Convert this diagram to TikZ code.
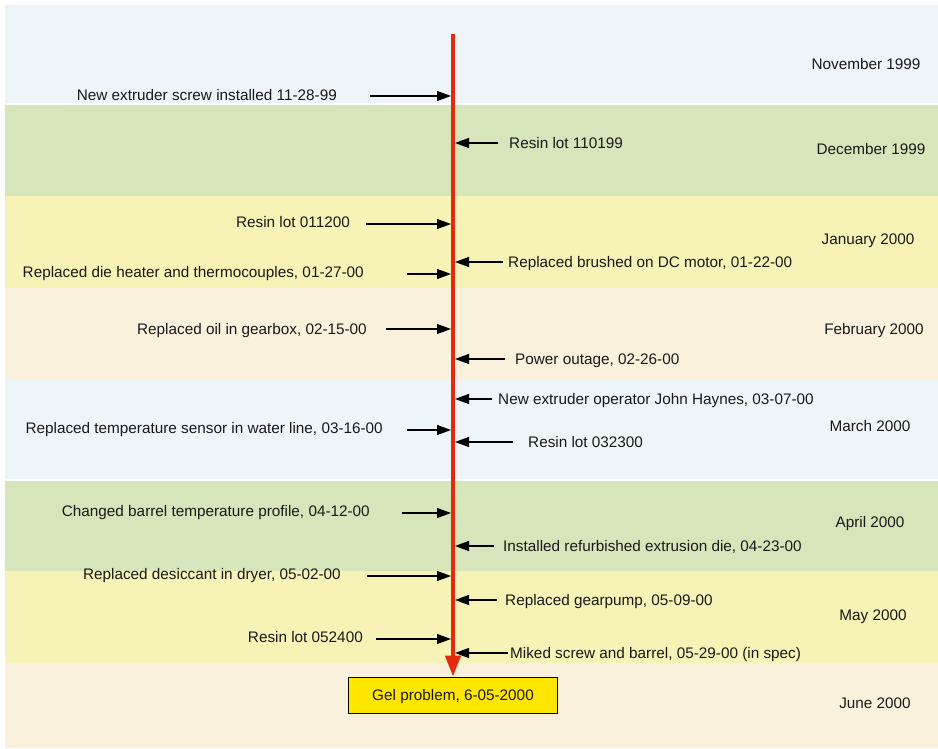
\documentclass[tikz,border=0pt]{standalone}
\usepackage{fontspec}
\setmainfont{Liberation Sans}
\usepackage{tikz}
\usetikzlibrary{arrows.meta, positioning}
\usepackage{xcolor}
\definecolor{bandblue}{HTML}{EDF5F8}
\definecolor{bandgreen}{HTML}{D6E5BA}
\definecolor{bandyellow}{HTML}{F7F2B5}
\definecolor{bandcream}{HTML}{FAF1DC}
\definecolor{spinered}{HTML}{E4290C}
\definecolor{gelyellow}{HTML}{FFE600}
\tikzstyle{evtext} = [inner sep=0pt, text height=11pt, text depth=0pt,
    font=\fontsize{15.3}{18}\selectfont, text=black!90]
\tikzstyle{month} = [evtext]
\tikzstyle{evarrow} = [-{Triangle[length=14pt, width=10pt]}, line width=1.2pt, color=black]
\tikzstyle{timeline} = [-{Triangle[length=21pt, width=15pt]}, line width=4pt, color=spinered]
\tikzstyle{gelbox} = [
    rectangle, draw=black, fill=gelyellow, line width=0.9pt,
    minimum width=209pt, minimum height=36pt, text height=11pt, text depth=0pt,
    font=\fontsize{15.3}{18}\selectfont, text=black!90
]

\begin{document}
\begin{tikzpicture}[x=1pt, y=-1pt]

    \useasboundingbox (0,0) rectangle (938,749);

    % Month bands
    \fill[bandblue]   (5,5)   rectangle (938,104);
    \fill[bandgreen]  (5,104) rectangle (938,196);
    \fill[bandyellow] (5,196) rectangle (938,288);
    \fill[bandcream]  (5,288) rectangle (938,379);
    \fill[bandblue]   (5,379) rectangle (938,480);
    \fill[bandgreen]  (5,480) rectangle (938,571);
    \fill[bandyellow] (5,571) rectangle (938,663);
    \fill[bandcream]  (5,663) rectangle (938,748);
    \draw[white, line width=1.2pt] (5,104) -- (938,104);
    \draw[white, line width=1.2pt] (5,480) -- (938,480);

    % Month labels
    \node[month] (m1) at (866,64)  {November 1999};
    \node[month] (m2) at (871,149) {December 1999};
    \node[month] (m3) at (868,239) {January 2000};
    \node[month] (m4) at (874,329) {February 2000};
    \node[month] (m5) at (870,426) {March 2000};
    \node[month] (m6) at (870,522) {April 2000};
    \node[month] (m7) at (873,615) {May 2000};
    \node[month] (m8) at (875,703) {June 2000};

    % Time line
    \coordinate (top) at (453,34);
    \coordinate (spL) at (451,0);
    \coordinate (spR) at (455,0);
    \node[gelbox] (gel) at (453,695) {Gel problem, 6-05-2000};
    \draw[timeline] (top) -- (gel.north);

    % Events on the left
    \coordinate (a1) at (370,96);
    \coordinate (a2) at (366,224);
    \coordinate (a3) at (407,274);
    \coordinate (a4) at (386,329);
    \coordinate (a5) at (407,430);
    \coordinate (a6) at (402,513);
    \coordinate (a7) at (367,576);
    \coordinate (a8) at (376,639);
    \node[evtext, left=33pt of a1, yshift=1pt] (l1) {New extruder screw installed 11-28-99};
    \node[evtext, left=16pt of a2, yshift=2pt] (l2) {Resin lot 011200};
    \node[evtext, left=43pt of a3, yshift=2pt] (l3) {Replaced die heater and thermocouples, 01-27-00};
    \node[evtext, left=19pt of a4] (l4) {Replaced oil in gearbox, 02-15-00};
    \node[evtext, left=24pt of a5, yshift=2pt] (l5) {Replaced temperature sensor in water line, 03-16-00};
    \node[evtext, left=32pt of a6, yshift=2pt] (l6) {Changed barrel temperature profile, 04-12-00};
    \node[evtext, left=26pt of a7, yshift=2pt] (l7) {Replaced desiccant in dryer, 05-02-00};
    \node[evtext, left=13pt of a8, yshift=2pt] (l8) {Resin lot 052400};
    \draw[evarrow] (a1) -- (a1 -| spL);
    \draw[evarrow] (a2) -- (a2 -| spL);
    \draw[evarrow] (a3) -- (a3 -| spL);
    \draw[evarrow] (a4) -- (a4 -| spL);
    \draw[evarrow] (a5) -- (a5 -| spL);
    \draw[evarrow] (a6) -- (a6 -| spL);
    \draw[evarrow] (a7) -- (a7 -| spL);
    \draw[evarrow] (a8) -- (a8 -| spL);

    % Events on the right
    \coordinate (b1) at (498,143);
    \coordinate (b2) at (503,262);
    \coordinate (b3) at (505,359);
    \coordinate (b4) at (492,399);
    \coordinate (b5) at (513,442);
    \coordinate (b6) at (494,546);
    \coordinate (b7) at (497,600);
    \coordinate (b8) at (508,653);
    \node[evtext, right=11pt of b1] (r1) {Resin lot 110199};
    \node[evtext, right=5pt of b2]  (r2) {Replaced brushed on DC motor, 01-22-00};
    \node[evtext, right=10pt of b3] (r3) {Power outage, 02-26-00};
    \node[evtext, right=6pt of b4]  (r4) {New extruder operator John Haynes, 03-07-00};
    \node[evtext, right=15pt of b5] (r5) {Resin lot 032300};
    \node[evtext, right=9pt of b6]  (r6) {Installed refurbished extrusion die, 04-23-00};
    \node[evtext, right=8pt of b7]  (r7) {Replaced gearpump, 05-09-00};
    \node[evtext, right=2pt of b8]  (r8) {Miked screw and barrel, 05-29-00 (in spec)};
    \draw[evarrow] (b1) -- (b1 -| spR);
    \draw[evarrow] (b2) -- (b2 -| spR);
    \draw[evarrow] (b3) -- (b3 -| spR);
    \draw[evarrow] (b4) -- (b4 -| spR);
    \draw[evarrow] (b5) -- (b5 -| spR);
    \draw[evarrow] (b6) -- (b6 -| spR);
    \draw[evarrow] (b7) -- (b7 -| spR);
    \draw[evarrow] (b8) -- (b8 -| spR);

\end{tikzpicture}
\end{document}
